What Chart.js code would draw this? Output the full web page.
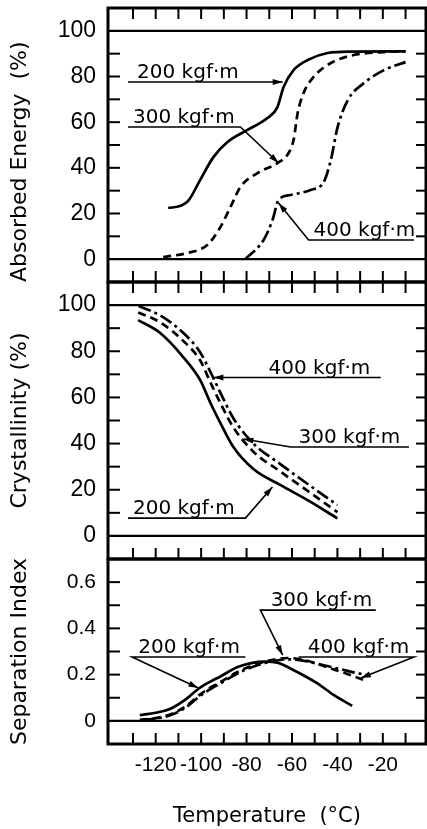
<!DOCTYPE html>
<html>
<head>
<meta charset="utf-8">
<script src="https://cdn.jsdelivr.net/npm/chart.js@4.4.0/dist/chart.umd.min.js"></script>
<style>
  html, body { margin: 0; padding: 0; background: #fff; overflow: hidden; }
  #wrap { position: relative; width: 427px; height: 829px; }
  canvas { position: absolute; left: 0; }
</style>
</head>
<body>
<div id="wrap">
  <canvas id="energy" width="427" height="290" style="top:0"></canvas>
  <canvas id="cryst" width="427" height="293" style="top:274px"></canvas>
  <canvas id="sep" width="427" height="278" style="top:551px"></canvas>
</div>
<script>
// --- data ---
const tempTicks = [-120, -100, -80, -60, -40, -20];
const percentTicks = [0, 20, 40, 60, 80, 100];
const sepTicks = [0, 0.2, 0.4, 0.6];

// absorbed energy (%)
const energyTemp200 = [-114.5, -109, -105.7, -100.4, -94.6, -88.4, -79.6, -70.8, -66.4, -63.7, -59.3, -53.1, -44.3, -34.1, -10];
const energy200 = [22.4, 23.4, 25.5, 34.7, 44.7, 51.3, 56.6, 61.8, 66.6, 75.4, 82.8, 87.2, 90.3, 90.9, 91.0];
const energyTemp300 = [-116.7, -106.1, -97.3, -91.5, -87.1, -82.7, -75.2, -66.4, -61.5, -59.3, -57.5, -54.9, -50.5, -42.9, -32.8, -19.5, -10];
const energy300 = [0.9, 2.7, 6.2, 14.1, 22.8, 31.6, 37.7, 42.1, 46.5, 52.2, 64.0, 72.8, 79.8, 85.9, 89.4, 90.7, 91.0];
const energyTemp400 = [-80.5, -72.5, -68.6, -65.9, -60.6, -51.8, -46.0, -42.9, -39.9, -35.4, -28.4, -19.5, -10];
const energy400 = [0, 8.4, 17.1, 25.9, 28.1, 30.3, 33.8, 43.4, 57.9, 69.7, 77.1, 82.8, 86.3];

// crystallinity (%)
const crystTemp200 = [-127.7, -118, -107.9, -100.4, -95.9, -91.5, -85.8, -77, -65, -53.1, -40];
const cryst200 = [93.5, 87.9, 77.5, 67.5, 57.6, 48.9, 38.5, 29.0, 22.0, 15.5, 7.6];
const crystTemp300 = [-127.7, -118, -107.9, -100.4, -95.9, -91.5, -85.8, -77, -65, -53.1, -40];
const cryst300 = [96.8, 92.5, 84.5, 76.0, 66.5, 57.5, 47.0, 36.5, 27.8, 19.5, 10.3];
const crystTemp400 = [-127.5, -118, -107.9, -100.4, -95.9, -91.5, -85.8, -77, -65, -53.1, -40];
const cryst400 = [99.6, 95.5, 88.0, 79.5, 71.0, 62.0, 51.0, 40.0, 31.0, 22.5, 13.4];

// separation index
const sepTemp200 = [-127, -120, -113, -106.5, -101, -95.5, -91.5, -84.2, -78, -72, -66, -59.2, -48.8, -41.5, -33.5];
const sep200 = [0.025, 0.035, 0.055, 0.095, 0.140, 0.172, 0.192, 0.232, 0.250, 0.256, 0.250, 0.219, 0.162, 0.111, 0.065];
const sepTemp300 = [-127, -120, -113, -106.5, -101, -95.5, -91.5, -84.2, -78, -72, -66, -62, -56, -50, -44, -38, -32, -27];
const sep300 = [0.005, 0.012, 0.030, 0.065, 0.110, 0.147, 0.168, 0.210, 0.237, 0.256, 0.268, 0.272, 0.266, 0.250, 0.230, 0.211, 0.190, 0.172];
const sepTemp400 = [-126, -120, -113, -106.5, -101, -95.5, -91.5, -84.2, -78, -72, -66, -62, -56, -50, -44, -38, -32, -26.5];
const sep400 = [0.004, 0.010, 0.026, 0.060, 0.104, 0.140, 0.162, 0.204, 0.231, 0.250, 0.262, 0.266, 0.262, 0.250, 0.236, 0.222, 0.208, 0.197];

// --- drawing ---
const SOLID = [], DASH = [8, 5], CHAIN = [13, 4, 3, 4];
const TICK_FONT = '"Liberation Sans", Arial, sans-serif';
const TEXT_FONT = '"DejaVu Sans", sans-serif';

function series(temps, vals, dash) {
  return {
    data: temps.map((t, i) => ({ x: t, y: vals[i] })),
    borderColor: '#000',
    borderWidth: 2.7,
    borderDash: dash,
    pointRadius: 0,
    cubicInterpolationMode: 'monotone',
    fill: false
  };
}

function seg(ctx, x0, y0, x1, y1) {
  ctx.beginPath();
  ctx.moveTo(x0, y0);
  ctx.lineTo(x1, y1);
  ctx.stroke();
}

function arrowHead(ctx, [x0, y0], [x1, y1]) {
  const a = Math.atan2(y1 - y0, x1 - x0), len = 10, w = 3;
  const bx = x1 - len * Math.cos(a), by = y1 - len * Math.sin(a);
  ctx.beginPath();
  ctx.moveTo(x1, y1);
  ctx.lineTo(bx + w * Math.sin(a), by - w * Math.cos(a));
  ctx.lineTo(bx - w * Math.sin(a), by + w * Math.cos(a));
  ctx.closePath();
  ctx.fill();
}

// frame, inward ticks, reference lines and labelled arrows
function framePlugin(cfg) {
  return {
    id: 'frame',
    afterDatasetsDraw(chart) {
      const { ctx, chartArea: a } = chart;
      const xs = chart.scales.x, ys = chart.scales.y;
      ctx.save();
      ctx.strokeStyle = '#000';
      ctx.fillStyle = '#000';
      ctx.lineWidth = 2.2;
      cfg.refLines.forEach(v => {
        const py = ys.getPixelForValue(v);
        seg(ctx, a.left, py, a.right, py);
      });
      ctx.lineWidth = 2;
      for (let i = 1; i <= cfg.yCount; i++) {
        const py = ys.getPixelForValue(i * cfg.yStep);
        seg(ctx, a.left, py, a.left + 12, py);
        seg(ctx, a.right - 10, py, a.right, py);
      }
      for (let t = -130; t <= -10; t += 10) {
        const px = xs.getPixelForValue(t);
        seg(ctx, px, a.bottom, px, a.bottom - 11);
        if (cfg.topTicks) seg(ctx, px, a.top, px, a.top + 11);
      }
      ctx.lineWidth = 3;
      ctx.strokeRect(a.left, a.top, a.right - a.left, a.bottom - a.top);

      ctx.font = '20px ' + TEXT_FONT;
      ctx.textBaseline = 'alphabetic';
      ctx.textAlign = 'left';
      ctx.lineWidth = 1.6;
      cfg.notes.forEach(n => {
        const pts = n.path.map(([x, y]) => [xs.getPixelForValue(x), ys.getPixelForValue(y)]);
        ctx.beginPath();
        pts.forEach(([x, y], i) => (i ? ctx.lineTo(x, y) : ctx.moveTo(x, y)));
        ctx.stroke();
        arrowHead(ctx, pts[pts.length - 2], pts[pts.length - 1]);
        ctx.fillText(n.text, xs.getPixelForValue(n.x), ys.getPixelForValue(n.y) - 4);
      });
      ctx.restore();
    }
  };
}

function makePanel(id, p) {
  return new Chart(document.getElementById(id), {
    type: 'line',
    data: { datasets: p.datasets },
    options: {
      responsive: false,
      animation: false,
      layout: { padding: { top: 8, bottom: p.showX ? 0 : 8, left: 0, right: 1 } },
      plugins: { legend: { display: false }, tooltip: { enabled: false } },
      scales: {
        x: {
          type: 'linear',
          min: -141,
          max: -1,
          display: p.showX,
          grid: { display: false, drawTicks: false },
          border: { display: false },
          afterBuildTicks: ax => { ax.ticks = tempTicks.map(v => ({ value: v })); },
          afterFit: ax => {
            ax.height = p.showX ? 85 : 0;
            ax.paddingLeft = ax.paddingRight = 0;
          },
          ticks: {
            padding: 9,
            color: '#000',
            font: { family: TICK_FONT, size: 21 },
            callback: v => String(v)
          },
          title: {
            display: true,
            text: 'Temperature  (°C)',
            color: '#000',
            font: { family: TEXT_FONT, size: 21 },
            padding: { top: 0, bottom: 0 }
          }
        },
        y: {
          type: 'linear',
          min: p.yMin,
          max: p.yMax,
          grid: { display: false, drawTicks: false },
          border: { display: false },
          afterBuildTicks: ax => { ax.ticks = p.yTicks.map(v => ({ value: v })); },
          afterFit: ax => {
            ax.width = 108;
            ax.paddingTop = ax.paddingBottom = 0;
          },
          ticks: {
            padding: 12,
            color: '#000',
            font: { family: TICK_FONT, size: p.tickSize },
            callback: v => String(v)
          },
          title: {
            display: true,
            text: p.title,
            align: p.titleAlign,
            color: '#000',
            font: { family: TEXT_FONT, size: 22 },
            padding: { top: 7, bottom: 0 }
          }
        }
      }
    },
    plugins: [framePlugin(p.frame)]
  });
}

makePanel('energy', {
  datasets: [
    series(energyTemp200, energy200, SOLID),
    series(energyTemp300, energy300, DASH),
    series(energyTemp400, energy400, CHAIN)
  ],
  yMin: -10, yMax: 110, yTicks: percentTicks, tickSize: 23,
  title: 'Absorbed Energy  (%)', titleAlign: 'start', showX: false,
  frame: {
    refLines: [0, 100], yStep: 10, yCount: 9, topTicks: true,
    notes: [
      { text: '200 kgf·m', x: -128.2, y: 77.6, path: [[-132.2, 77.6], [-64.1, 77.6]] },
      { text: '300 kgf·m', x: -130, y: 57.9, path: [[-132.2, 57.9], [-82.7, 57.9], [-65.9, 42.1]] },
      { text: '400 kgf·m', x: -50.5, y: 8.4, path: [[-6.3, 8.4], [-52.7, 8.4], [-65.9, 24.6]] }
    ]
  }
});

makePanel('cryst', {
  datasets: [
    series(crystTemp200, cryst200, SOLID),
    series(crystTemp300, cryst300, DASH),
    series(crystTemp400, cryst400, CHAIN)
  ],
  yMin: -10, yMax: 110, yTicks: percentTicks, tickSize: 23,
  title: 'Crystallinity (%)', titleAlign: 'center', showX: false,
  frame: {
    refLines: [0, 100], yStep: 10, yCount: 9, topTicks: true,
    notes: [
      { text: '400 kgf·m', x: -70.3, y: 68.6, path: [[-20.9, 68.6], [-94.6, 68.6]] },
      { text: '300 kgf·m', x: -57.1, y: 38.5, path: [[-8.5, 38.5], [-60.6, 38.5], [-81.4, 42.0]] },
      { text: '200 kgf·m', x: -130, y: 7.7, path: [[-132.2, 7.7], [-80.5, 7.7], [-68.6, 21.2]] }
    ]
  }
});

makePanel('sep', {
  datasets: [
    series(sepTemp200, sep200, SOLID),
    series(sepTemp300, sep300, DASH),
    series(sepTemp400, sep400, CHAIN)
  ],
  yMin: -0.1, yMax: 0.7, yTicks: sepTicks, tickSize: 21,
  title: 'Separation Index', titleAlign: 'center', showX: true,
  frame: {
    refLines: [0], yStep: 0.1, yCount: 6, topTicks: false,
    notes: [
      { text: '300 kgf·m', x: -69.4, y: 0.479, path: [[-23.1, 0.479], [-73.9, 0.479], [-64.1, 0.284]] },
      { text: '200 kgf·m', x: -127.7, y: 0.276, path: [[-80.5, 0.276], [-130.4, 0.276], [-101.2, 0.142]] },
      { text: '400 kgf·m', x: -53.1, y: 0.276, path: [[-57.1, 0.276], [-6.3, 0.276], [-29.7, 0.185]] }
    ]
  }
});
</script>
</body>
</html>
